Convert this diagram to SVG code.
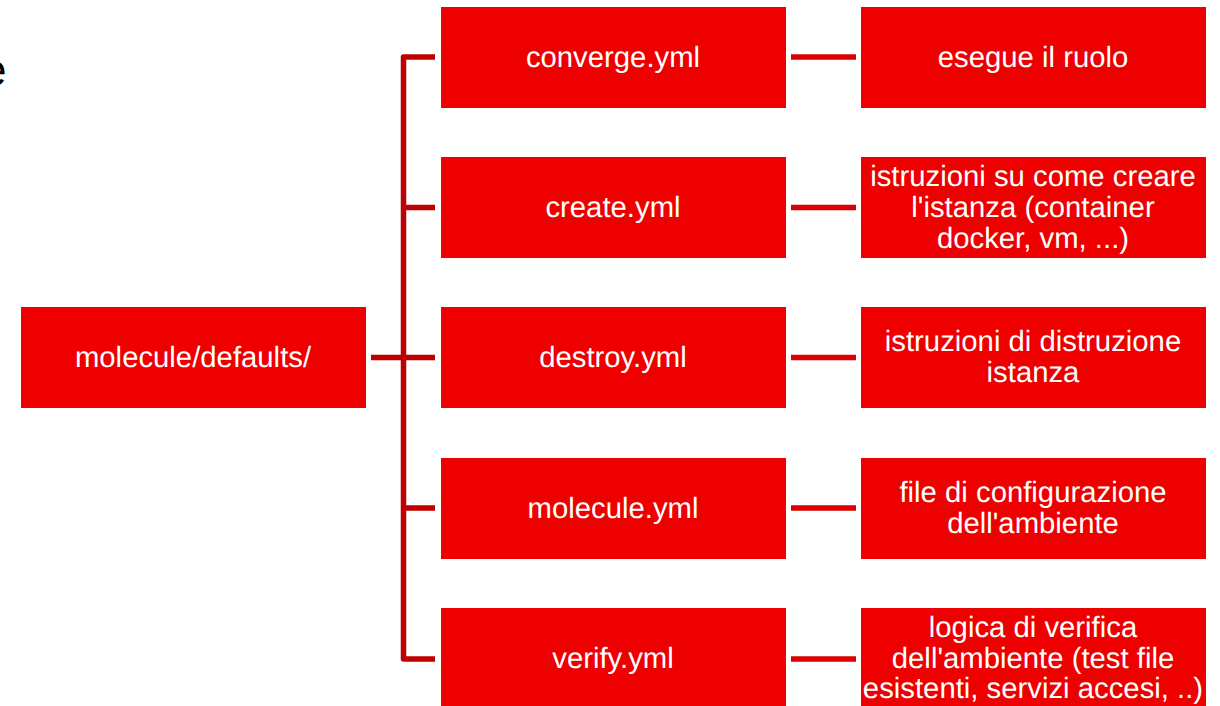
<svg xmlns="http://www.w3.org/2000/svg" width="1220" height="706" viewBox="0 0 1220 706">
<style>
rect{fill:#ee0000}
text{font-family:"Liberation Sans",Arial,sans-serif;font-size:29.3px;fill:#fff;text-anchor:middle;text-rendering:geometricPrecision}
#connectors path{fill:none;stroke:#c00000;stroke-width:5.500}
#connectors path.d{stroke:#dc0000}
</style>
<rect x="0" y="0" width="1220" height="706" style="fill:#fff"/>
<text x="-18" y="85" style="font-size:44px;fill:#000;text-anchor:start">e</text>
<g id="connectors">
<path stroke-linejoin="round" d="M435 57H403.500V659H435M371 357.500H435M403.500 207.500H435M403.500 508H435"/>
<path class="d" d="M791 57H856M791 207.500H856M791 357.500H856M791 508H856M791 659H856"/>
</g>
<g id="root"><rect x="21" y="307" width="345" height="101"/><text x="193" y="367">molecule/defaults/</text></g>
<g id="converge"><rect x="441" y="7" width="345" height="101"/><text x="613" y="67">converge.yml</text></g>
<g id="create"><rect x="441" y="157" width="345" height="101"/><text x="613" y="216.500">create.yml</text></g>
<g id="destroy"><rect x="441" y="307" width="345" height="101"/><text x="613" y="367">destroy.yml</text></g>
<g id="molecule"><rect x="441" y="458" width="345" height="101"/><text x="613" y="517.500">molecule.yml</text></g>
<g id="verify"><rect x="441" y="608" width="345" height="98"/><text x="613" y="668">verify.yml</text></g>
<g id="d1"><rect x="861" y="7" width="345" height="101"/><text x="1033" y="67">esegue il ruolo</text></g>
<g id="d2"><rect x="861" y="157" width="345" height="101"/><text x="1033" y="186">istruzioni su come creare</text><text x="1033" y="216.500">l'istanza (container</text><text x="1033" y="247.500">docker, vm, ...)</text></g>
<g id="d3"><rect x="861" y="307" width="345" height="101"/><text x="1033" y="351">istruzioni di distruzione</text><text x="1033" y="382">istanza</text></g>
<g id="d4"><rect x="861" y="458" width="345" height="101"/><text x="1033" y="502">file di configurazione</text><text x="1033" y="532.500">dell'ambiente</text></g>
<g id="d5"><rect x="861" y="608" width="345" height="98"/><text x="1033" y="637">logica di verifica</text><text x="1033" y="668">dell'ambiente (test file</text><text x="1033" y="698">esistenti, servizi accesi, ..)</text></g>
</svg>
